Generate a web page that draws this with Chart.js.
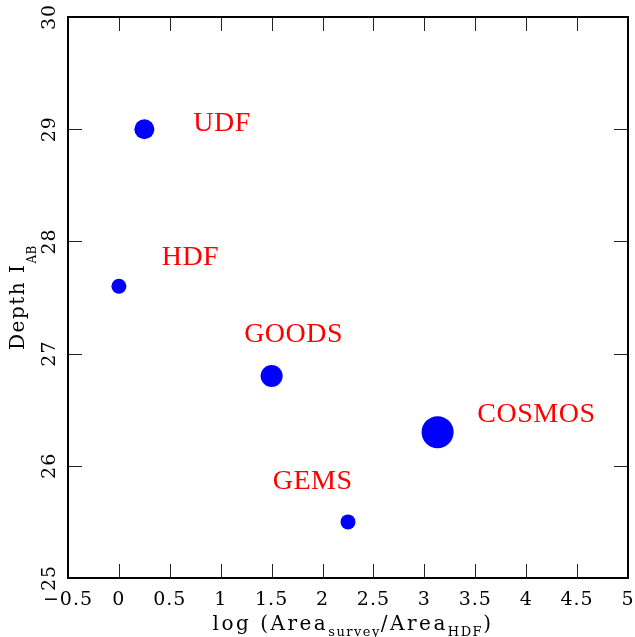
<!DOCTYPE html>
<html>
<head>
<meta charset="utf-8">
<script src="https://cdn.jsdelivr.net/npm/chart.js@4.4.1/dist/chart.umd.min.js"></script>
<style>
  html, body { margin: 0; padding: 0; background: #fff; overflow: hidden; }
  #wrap { width: 635px; height: 637px; }
  canvas { display: block; }
</style>
</head>
<body>
<div id="wrap"><canvas id="chart" width="635" height="637"></canvas></div>
<script>
const surveys = ['UDF', 'HDF', 'GOODS', 'COSMOS', 'GEMS'];
const logArea = [0.25, 0, 1.5, 3.13, 2.25];
const depth = [29.0, 27.6, 26.8, 26.3, 25.5];
// name positions in data units (left edge, baseline)
const labelX = [0.73, 0.42, 1.23, 3.52, 1.51];
const labelY = [28.98, 27.79, 27.10, 26.39, 25.79];
const markerRadius = [10, 7.5, 11, 16, 7.5];
const xTicks = [-0.5, 0, 0.5, 1, 1.5, 2, 2.5, 3, 3.5, 4, 4.5, 5];
const yTicks = [25, 26, 27, 28, 29, 30];

const SERIF = '"DejaVu Serif", serif';

// draw a string made of pieces with their own size / offset (for subscripts)
function drawPieces(ctx, pieces, x, y, align) {
    let total = 0;
    pieces.forEach(p => {
        ctx.font = p.size + 'px ' + SERIF;
        ctx.letterSpacing = p.sp + 'px';
        p.w = ctx.measureText(p.t).width;
        total += p.w;
    });
    let cx = align === 'center' ? x - total / 2 : x;
    pieces.forEach(p => {
        ctx.font = p.size + 'px ' + SERIF;
        ctx.letterSpacing = p.sp + 'px';
        ctx.fillText(p.t, cx, y + p.dy);
        cx += p.w;
    });
    ctx.letterSpacing = '0px';
}

const framePlugin = {
    id: 'frame',
    beforeDraw(chart) {
        chart.ctx.letterSpacing = '1px';
    },
    afterDraw(chart) {
        const ctx = chart.ctx;
        const xs = chart.scales.x, ys = chart.scales.y;
        // box follows the scales' own pixel range
        const L = xs.getPixelForValue(xs.min), R = xs.getPixelForValue(xs.max);
        const T = ys.getPixelForValue(ys.max), B = ys.getPixelForValue(ys.min);
        ctx.save();
        ctx.letterSpacing = '0px';
        // inward ticks on all four sides
        ctx.strokeStyle = '#222';
        ctx.lineWidth = 1;
        ctx.beginPath();
        xTicks.forEach(v => {
            const px = Math.round(xs.getPixelForValue(v)) + 0.5;
            ctx.moveTo(px, B); ctx.lineTo(px, B - 14);
            ctx.moveTo(px, T); ctx.lineTo(px, T + 14);
        });
        yTicks.forEach(v => {
            const py = Math.round(ys.getPixelForValue(v)) + 0.5;
            ctx.moveTo(L, py); ctx.lineTo(L + 14, py);
            ctx.moveTo(R, py); ctx.lineTo(R - 14, py);
        });
        ctx.stroke();
        ctx.strokeStyle = '#000';
        ctx.lineWidth = 2;
        ctx.strokeRect(L, T, R - L, B - T);

        // axis titles
        ctx.fillStyle = '#000';
        ctx.textBaseline = 'alphabetic';
        drawPieces(ctx, [
            { t: 'log (Area', size: 20, dy: 0, sp: 2.5 },
            { t: 'survey', size: 13, dy: 6, sp: 1.5 },
            { t: '/Area', size: 20, dy: 0, sp: 2.5 },
            { t: 'HDF', size: 13, dy: 6, sp: 1.5 },
            { t: ')', size: 20, dy: 0, sp: 2.5 }
        ], (L + R) / 2 + 5, 630, 'center');

        ctx.translate(24, (T + B) / 2);
        ctx.rotate(-Math.PI / 2);
        drawPieces(ctx, [
            { t: 'Depth I', size: 20, dy: 0, sp: 1.5 },
            { t: 'AB', size: 12, dy: 12, sp: 0.5 }
        ], 0, 0, 'center');
        ctx.restore();
    }
};

const namePlugin = {
    id: 'names',
    afterDatasetsDraw(chart) {
        const ctx = chart.ctx;
        const xs = chart.scales.x, ys = chart.scales.y;
        ctx.save();
        ctx.letterSpacing = '0.5px';
        ctx.font = '28px "Liberation Serif", serif';
        ctx.fillStyle = '#ff0000';
        ctx.textAlign = 'left';
        ctx.textBaseline = 'alphabetic';
        surveys.forEach((name, i) => {
            ctx.fillText(name, xs.getPixelForValue(labelX[i]), ys.getPixelForValue(labelY[i]));
        });
        ctx.restore();
    }
};

const chart = new Chart(document.getElementById('chart'), {
    type: 'scatter',
    data: {
        datasets: [{
            data: logArea.map((x, i) => ({ x: x, y: depth[i] })),
            backgroundColor: '#0000ff',
            borderColor: '#0000ff',
            borderWidth: 0,
            pointRadius: markerRadius,
            pointHoverRadius: markerRadius
        }]
    },
    options: {
        responsive: false,
        animation: false,
        devicePixelRatio: 1,
        clip: false,
        // big COSMOS dot would otherwise pad every side by its radius
        layout: { autoPadding: false, padding: { top: 17, right: 7, left: 0, bottom: 0 } },
        plugins: {
            legend: { display: false },
            tooltip: { enabled: false }
        },
        scales: {
            x: {
                type: 'linear',
                min: -0.5,
                max: 5,
                afterBuildTicks: s => { s.ticks = xTicks.map(v => ({ value: v })); },
                afterFit: s => { s.height = 59; s.paddingLeft = 0; s.paddingRight = 0; },
                grid: { display: false, drawTicks: false },
                border: { display: false },
                ticks: {
                    color: '#000',
                    padding: 11,
                    font: { family: SERIF, size: 19 },
                    maxRotation: 0,
                    callback: v => String(v).replace('-', '\u2212')
                }
            },
            y: {
                type: 'linear',
                min: 25,
                max: 30,
                afterBuildTicks: s => { s.ticks = yTicks.map(v => ({ value: v })); },
                afterFit: s => { s.width = 68; s.paddingTop = 0; s.paddingBottom = 0; },
                grid: { display: false, drawTicks: false },
                border: { display: false },
                ticks: {
                    color: '#000',
                    padding: 6,
                    minRotation: 90,
                    maxRotation: 90,
                    crossAlign: 'center',
                    font: { family: SERIF, size: 19 },
                    callback: v => String(v)
                }
            }
        }
    },
    plugins: [namePlugin, framePlugin]
});
</script>
</body>
</html>
